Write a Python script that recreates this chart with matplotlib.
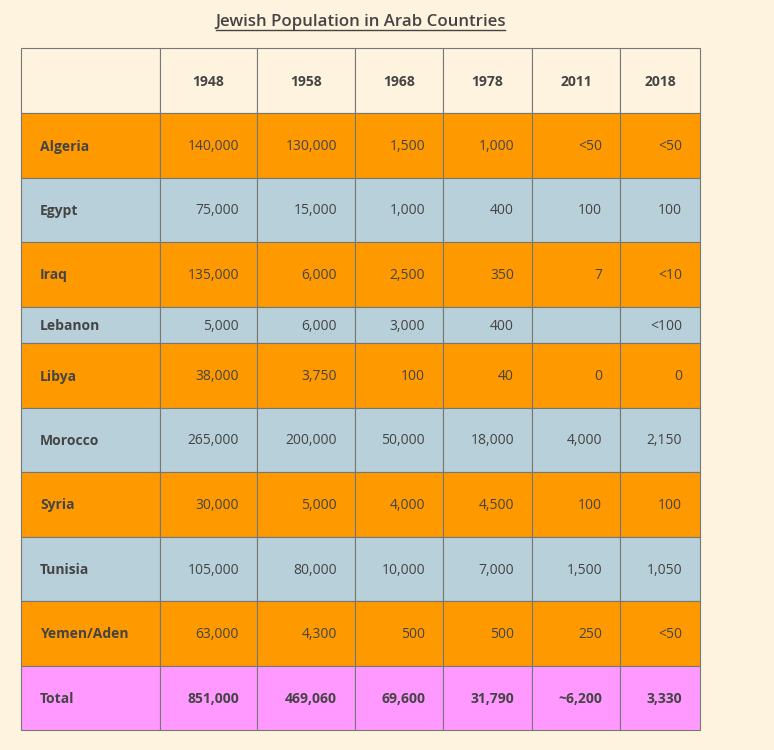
import matplotlib
matplotlib.use("Agg")
import matplotlib.pyplot as plt
from matplotlib.patches import Rectangle

plt.rcParams['font.family'] = ['Open Sans', 'DejaVu Sans']

title = "Jewish Population in Arab Countries"
years = ["1948", "1958", "1968", "1978", "2011", "2018"]
countries = ["Algeria", "Egypt", "Iraq", "Lebanon", "Libya", "Morocco",
             "Syria", "Tunisia", "Yemen/Aden"]
pop_1948 = ["140,000", "75,000", "135,000", "5,000", "38,000", "265,000", "30,000", "105,000", "63,000"]
pop_1958 = ["130,000", "15,000", "6,000", "6,000", "3,750", "200,000", "5,000", "80,000", "4,300"]
pop_1968 = ["1,500", "1,000", "2,500", "3,000", "100", "50,000", "4,000", "10,000", "500"]
pop_1978 = ["1,000", "400", "350", "400", "40", "18,000", "4,500", "7,000", "500"]
pop_2011 = ["<50", "100", "7", "", "0", "4,000", "100", "1,500", "250"]
pop_2018 = ["<50", "100", "<10", "<100", "0", "2,150", "100", "1,050", "<50"]
total_label = "Total"
totals = ["851,000", "469,060", "69,600", "31,790", "~6,200", "3,330"]

# layout (pixels)
W, H = 774, 750
col_edges = [21, 160, 257, 355, 443, 532, 620, 700]
row_edges = [48, 113, 178, 242, 307, 343, 408, 472, 537, 601, 666, 730]

BG = "#fef3de"
ORANGE = "#ff9900"
BLUE = "#b7d0d9"
PINK = "#ff99ff"
LINE = "#777777"
TXT = "#444444"
FS = 10
BW = "bold"

fig = plt.figure(figsize=(W / 100, H / 100), dpi=100, facecolor=BG)
ax = fig.add_axes([0, 0, 1, 1])
ax.set_xlim(0, W)
ax.set_ylim(H, 0)
ax.axis("off")
ax.set_facecolor(BG)

columns = [pop_1948, pop_1958, pop_1968, pop_1978, pop_2011, pop_2018]
n_rows = len(countries) + 2
DY = 1.0

for r in range(n_rows):
    y0, y1 = row_edges[r], row_edges[r + 1]
    yc = (y0 + y1) / 2 + DY
    if r == 0:
        fc = BG
    elif r == n_rows - 1:
        fc = PINK
    else:
        fc = ORANGE if (r - 1) % 2 == 0 else BLUE
    for c in range(len(col_edges) - 1):
        x0, x1 = col_edges[c], col_edges[c + 1]
        ax.add_patch(Rectangle((x0, y0), x1 - x0, y1 - y0, facecolor=fc,
                               edgecolor=LINE, linewidth=0.8))
        if r == 0:
            if c > 0:
                ax.text((x0 + x1) / 2, yc, years[c - 1], ha="center", va="center",
                        fontsize=FS, fontweight=BW, color=TXT)
        elif r == n_rows - 1:
            if c == 0:
                ax.text(x0 + 19, yc, total_label, ha="left", va="center",
                        fontsize=FS, fontweight=BW, color=TXT)
            else:
                ax.text(x1 - 18, yc, totals[c - 1], ha="right", va="center",
                        fontsize=FS, fontweight=BW, color=TXT)
        else:
            if c == 0:
                ax.text(x0 + 19, yc, countries[r - 1], ha="left", va="center",
                        fontsize=FS, fontweight=BW, color=TXT)
            else:
                ax.text(x1 - 18, yc, columns[c - 1][r - 1], ha="right", va="center",
                        fontsize=FS, color=TXT)

t = ax.text(360.5, 22, title, ha="center", va="center", fontsize=12.2,
            fontweight="semibold", color=TXT)
fig.canvas.draw()
bb = t.get_window_extent().transformed(ax.transData.inverted())
ax.plot([bb.x0 + 1, bb.x1 - 1], [29.5, 29.5], color=TXT, linewidth=1)

fig.savefig("out.png", dpi=100, facecolor=BG)
